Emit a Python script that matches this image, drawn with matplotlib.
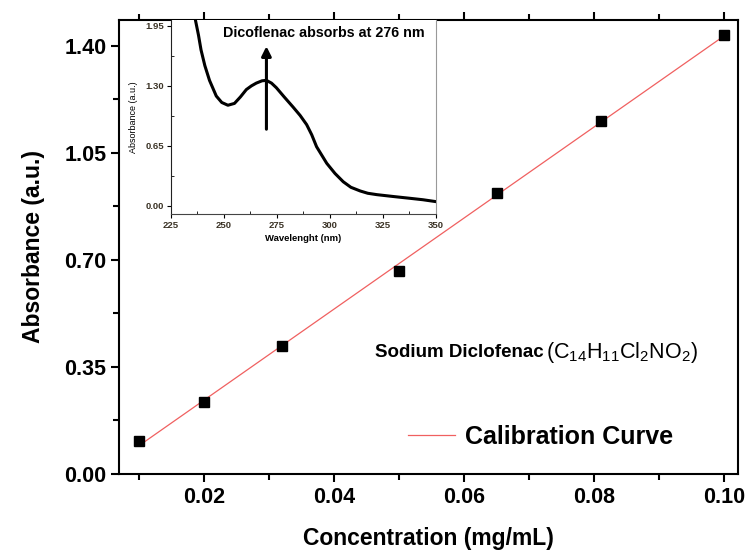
import numpy as np
import matplotlib
matplotlib.use("Agg")
import matplotlib.pyplot as plt
from matplotlib.ticker import MultipleLocator

plt.rcParams['font.family'] = ['Liberation Sans', 'DejaVu Sans']
plt.rcParams['mathtext.fontset'] = 'custom'
plt.rcParams['mathtext.rm'] = 'Liberation Sans'
plt.rcParams['mathtext.bf'] = 'Liberation Sans:bold'

# calibration data
conc = [0.01, 0.02, 0.032, 0.05, 0.065, 0.081, 0.10]
absorb = [0.108, 0.236, 0.419, 0.664, 0.919, 1.155, 1.436]

# UV spectrum (inset)
wl = [236.5, 238.0, 239.2, 241.0, 243.2, 246.4, 249.0, 251.9, 255.0, 257.8, 260.6, 263.0,
      265.3, 268.0, 270.1, 272.5, 274.8, 278.5, 282.7, 286.0, 289.1, 291.5, 293.8, 298.6,
      302.5, 306.4, 310.0, 314.4, 318.0, 322.3, 330.0, 338.1, 344.0, 350.0]
spec = [2.02, 1.85, 1.69, 1.52, 1.36, 1.19, 1.12, 1.09, 1.11, 1.18, 1.26, 1.30,
        1.33, 1.355, 1.36, 1.33, 1.28, 1.18, 1.07, 0.98, 0.88, 0.77, 0.64, 0.46,
        0.35, 0.26, 0.20, 0.16, 0.135, 0.12, 0.10, 0.08, 0.065, 0.045]

fig = plt.figure(figsize=(7.46, 5.52), dpi=100)
ax = fig.add_axes([0.1595, 0.1413, 0.8298, 0.8225])

slope, icept = np.polyfit(conc, absorb, 1)
xf = np.array([conc[0], conc[-1]])
ax.plot(xf, slope * xf + icept, color='#f06060', lw=0.9, label='Calibration Curve')
ax.plot(conc, absorb, 's', color='black', ms=6.5, zorder=3)

ax.set_xlim(0.00692, 0.10215)
ax.set_ylim(0, 1.485)
ax.xaxis.set_minor_locator(MultipleLocator(0.01))
ax.set_yticks([0.0, 0.35, 0.70, 1.05, 1.40])
ax.yaxis.set_minor_locator(MultipleLocator(0.175))
ax.set_xticks([0.02, 0.04, 0.06, 0.08, 0.10])
ax.set_xticklabels(['0.02', '0.04', '0.06', '0.08', '0.10'])
ax.set_yticklabels(['0.00', '0.35', '0.70', '1.05', '1.40'])
for s in ax.spines.values():
    s.set_linewidth(1.5)
ax.tick_params(which='major', direction='out', length=6, width=1.5, labelsize=15.5, pad=3,
               top=True, right=False)
ax.tick_params(which='minor', direction='out', length=4.5, width=1.5, top=True, right=False)
for lb in ax.get_xticklabels() + ax.get_yticklabels():
    lb.set_fontweight('bold')

ax.set_xlabel('Concentration (mg/mL)', fontsize=16.5, fontweight='bold', labelpad=14)
ax.set_ylabel('Absorbance (a.u.)', fontsize=16.5, fontweight='bold', labelpad=14)

t1 = ax.text(0.0463, 0.399, 'Sodium Diclofenac', fontsize=13.5, fontweight='bold',
             va='center', ha='left')
ax.annotate(r'(C$_{14}$H$_{11}$Cl$_{2}$NO$_{2}$)', xy=(1, 0.5), xycoords=t1,
            xytext=(2, 0), textcoords='offset points', fontsize=15.5,
            va='center', ha='left')

ax.legend(loc='center left', bbox_to_anchor=(0.43, 0.0815), frameon=False,
          handlelength=1.9, handletextpad=0.4,
          prop={'weight': 'bold', 'size': 18})

# inset
ins = fig.add_axes([0.2292, 0.6123, 0.3546, 0.3515])
ins.plot(wl, spec, color='black', lw=2.2)
ins.set_xlim(225, 350)
ins.set_ylim(-0.09, 2.015)
ins.set_xticks([225, 250, 275, 300, 325, 350])
ins.xaxis.set_minor_locator(MultipleLocator(12.5))
ins.set_yticks([0.0, 0.65, 1.30, 1.95])
ins.set_yticklabels(['0.00', '0.65', '1.30', '1.95'])
ins.yaxis.set_minor_locator(MultipleLocator(0.325))
ins.spines['top'].set_visible(False)
ins.spines['right'].set_color('#999999')
ins.spines['left'].set_color('#222222')
ins.spines['bottom'].set_color('#444444')
ins.tick_params(which='major', direction='out', length=3, width=0.8, labelsize=6.8,
                labelcolor='#3b3326', pad=2)
ins.tick_params(which='minor', direction='in', length=2, width=0.6)
for lb in ins.get_xticklabels() + ins.get_yticklabels():
    lb.set_fontweight('bold')
ins.set_xlabel('Wavelenght (nm)', fontsize=6.8, fontweight='bold', labelpad=3)
ins.set_ylabel('Absorbance (a.u.)', fontsize=6.5, labelpad=5)
ins.annotate('', xy=(270.1, 1.76), xytext=(270.1, 0.80),
             arrowprops=dict(arrowstyle='-|>', color='black', lw=2.2, mutation_scale=14))
ins.text(297, 1.87, 'Dicoflenac absorbs at 276 nm', fontsize=10.3, fontweight='bold',
         ha='center', va='center')

fig.savefig('out.png', dpi=100)
